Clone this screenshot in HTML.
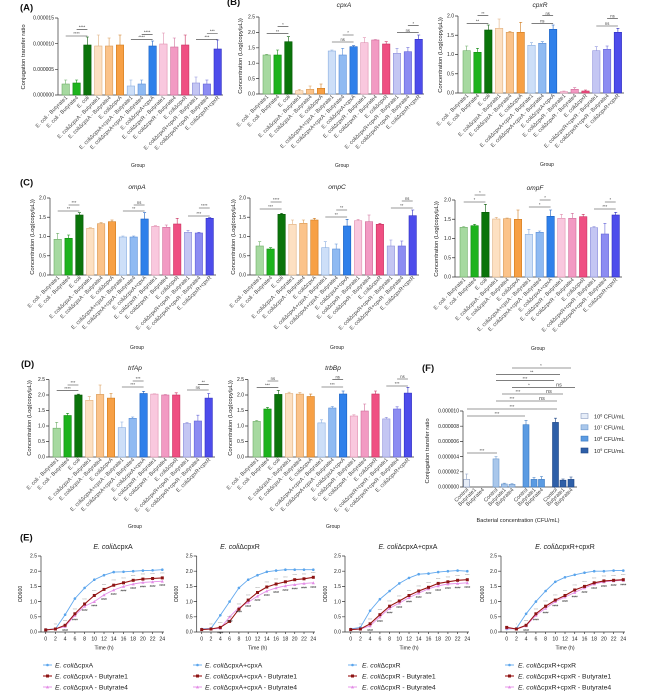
<!DOCTYPE html>
<html><head><meta charset="utf-8">
<style>
html,body{margin:0;padding:0;background:#fff;width:669px;height:698px;overflow:hidden}
svg{display:block}
text{font-family:"Liberation Sans",Arial,sans-serif;fill:#222}
.tk{font-size:5px;text-anchor:end}
.xl{font-size:5.4px;text-anchor:end;fill:#444}
.yl{font-size:5.8px;text-anchor:middle}
.ti{font-size:6.6px;font-style:italic;text-anchor:middle}
.et{font-size:7px;text-anchor:middle}
.pl{font-size:9.5px;font-weight:bold;fill:#111}
.gp{font-size:5px;text-anchor:middle}
.sg{font-size:4.2px;text-anchor:middle;fill:#444}
.ax{stroke:#333;stroke-width:.7;fill:none}
.sl{stroke:#333;stroke-width:.55;fill:none}
.b{stroke-width:.6}.b path{fill:none}
.c0{fill:#a6d9a0;stroke:#6fae68}.c1{fill:#1db31d;stroke:#128a12}.c2{fill:#0b740b;stroke:#085a08}
.c3{fill:#fde0c2;stroke:#e0b080}.c4{fill:#fbc38a;stroke:#d99a55}.c5{fill:#f7a045;stroke:#d07c20}
.c6{fill:#cddff8;stroke:#8aaee0}.c7{fill:#8fbaf2;stroke:#5a8fd8}.c8{fill:#2f80ea;stroke:#1a5fc0}
.c9{fill:#f9c8de;stroke:#e090b0}.c10{fill:#f29ac3;stroke:#d06d9a}.c11{fill:#ef4f82;stroke:#c8305f}
.c12{fill:#c4c6f3;stroke:#8f92dc}.c13{fill:#8c8cf2;stroke:#6565d8}.c14{fill:#4d4ceb;stroke:#3030c0}
.f1{fill:#e6edf8;stroke:#8a9cc0}.f2{fill:#a9c7eb;stroke:#6d98cc}.f3{fill:#5b9be2;stroke:#3a78c0}.f4{fill:#2e5fa8;stroke:#1d4585}
.et2{font-size:5.2px;text-anchor:middle}
.lg{font-size:6.8px}
.an{font-size:2.8px;fill:#888;text-anchor:middle}
.an2{font-size:2.6px;fill:#222;text-anchor:middle}
.lb{stroke:#62a8ee;stroke-width:.9;fill:none}
.lr{stroke:#9a1515;stroke-width:1.1;fill:none}
.lp{stroke:#e58ee8;stroke-width:.9;fill:none}
</style></head><body>
<svg width="669" height="698" viewBox="0 0 669 698" xmlns="http://www.w3.org/2000/svg">
<defs>
<marker id="mb" markerWidth="4" markerHeight="4" refX="2" refY="2" markerUnits="userSpaceOnUse"><circle cx="2" cy="2" r="1.3" fill="#5aa5ec"/></marker>
<marker id="mr" markerWidth="4" markerHeight="4" refX="2" refY="2" markerUnits="userSpaceOnUse"><rect x=".5" y=".5" width="3" height="3" fill="#8c1414"/></marker>
<marker id="mp" markerWidth="4" markerHeight="4" refX="2" refY="2" markerUnits="userSpaceOnUse"><path d="M2 .5L3.6 3.4H.4z" fill="#e38ce6"/></marker>
</defs>

<!-- ============ PANEL A ============ -->
<text class="pl" x="20" y="10.5">(A)</text>
<path class="ax" d="M58 18V95H223M55 18h3M55 43.7h3M55 69.3h3M55 95h3"/>
<text class="tk" x="54" y="19.7">0.000015</text>
<text class="tk" x="54" y="45.4">0.000010</text>
<text class="tk" x="54" y="71">0.000005</text>
<text class="tk" x="54" y="96.7">0.000000</text>
<text class="yl" transform="translate(25 57)rotate(-90)">Conjugation transfer ratio</text>
<g class="b c0"><rect x="62" y="84" width="7.4" height="11"/><path d="M65.7 84V80m-1.5 0h3"/></g>
<g class="b c1"><rect x="72.9" y="83" width="7.4" height="12"/><path d="M76.6 83V80m-1.5 0h3"/></g>
<g class="b c2"><rect x="83.7" y="45" width="7.4" height="50"/><path d="M87.4 45V37m-1.5 0h3"/></g>
<g class="b c3"><rect x="94.6" y="46" width="7.4" height="49"/><path d="M98.3 46V35m-1.5 0h3"/></g>
<g class="b c4"><rect x="105.4" y="46" width="7.4" height="49"/><path d="M109.1 46V38m-1.5 0h3"/></g>
<g class="b c5"><rect x="116.3" y="45" width="7.4" height="50"/><path d="M120 45V35m-1.5 0h3"/></g>
<g class="b c6"><rect x="127.2" y="86" width="7.4" height="9"/><path d="M130.9 86V80m-1.5 0h3"/></g>
<g class="b c7"><rect x="138" y="84" width="7.4" height="11"/><path d="M141.7 84V80m-1.5 0h3"/></g>
<g class="b c8"><rect x="148.9" y="46" width="7.4" height="49"/><path d="M152.6 46V41m-1.5 0h3"/></g>
<g class="b c9"><rect x="159.7" y="44" width="7.4" height="51"/><path d="M163.4 44V33m-1.5 0h3"/></g>
<g class="b c10"><rect x="170.6" y="47" width="7.4" height="48"/><path d="M174.3 47V38m-1.5 0h3"/></g>
<g class="b c11"><rect x="181.5" y="45" width="7.4" height="50"/><path d="M185.2 45V35m-1.5 0h3"/></g>
<g class="b c12"><rect x="192.3" y="83" width="7.4" height="12"/><path d="M196 83V77m-1.5 0h3"/></g>
<g class="b c13"><rect x="203.2" y="84" width="7.4" height="11"/><path d="M206.9 84V80m-1.5 0h3"/></g>
<g class="b c14"><rect x="214" y="49" width="7.4" height="46"/><path d="M217.7 49V40m-1.5 0h3"/></g>
<path class="sl" d="M65.7 36H87.4M76.6 29.3H87.4M130.9 39.3H152.6M141.7 34.3H152.6M196 39.3H217.7M206.9 33.5H217.7"/>
<text class="sg" x="76.5" y="35.2">****</text><text class="sg" x="82" y="28.5">****</text>
<text class="sg" x="141.7" y="38.5">****</text><text class="sg" x="147.1" y="33.5">****</text>
<text class="sg" x="206.9" y="38.5">***</text><text class="sg" x="212.3" y="32.7">***</text>
<text class="xl" transform="translate(67.7 98)rotate(-45)">E. coli - Butyrate1</text>
<text class="xl" transform="translate(78.6 98)rotate(-45)">E. coli - Butyrate4</text>
<text class="xl" transform="translate(89.4 98)rotate(-45)">E. coli</text>
<text class="xl" transform="translate(100.3 98)rotate(-45)">E. coliΔcpxA - Butyrate1</text>
<text class="xl" transform="translate(111.1 98)rotate(-45)">E. coliΔcpxA - Butyrate4</text>
<text class="xl" transform="translate(122 98)rotate(-45)">E. coliΔcpxA</text>
<text class="xl" transform="translate(132.9 98)rotate(-45)">E. coliΔcpxA+cpxA - Butyrate1</text>
<text class="xl" transform="translate(143.7 98)rotate(-45)">E. coliΔcpxA+cpxA - Butyrate4</text>
<text class="xl" transform="translate(154.6 98)rotate(-45)">E. coliΔcpxA+cpxA</text>
<text class="xl" transform="translate(165.4 98)rotate(-45)">E. coliΔcpxR - Butyrate1</text>
<text class="xl" transform="translate(176.3 98)rotate(-45)">E. coliΔcpxR - Butyrate4</text>
<text class="xl" transform="translate(187.2 98)rotate(-45)">E. coliΔcpxR</text>
<text class="xl" transform="translate(198 98)rotate(-45)">E. coliΔcpxR+cpxR - Butyrate1</text>
<text class="xl" transform="translate(208.9 98)rotate(-45)">E. coliΔcpxR+cpxR - Butyrate4</text>
<text class="xl" transform="translate(219.7 98)rotate(-45)">E. coliΔcpxR+cpxR</text>
<text class="gp" x="138" y="167">Group</text>

<!-- ============ PANEL B cpxA ============ -->
<text class="pl" x="227" y="5">(B)</text>
<text class="ti" x="344" y="7">cpxA</text>
<path class="ax" d="M259 17V94H424M256 17h3M256 32.4h3M256 47.8h3M256 63.2h3M256 78.6h3M256 94h3"/>
<text class="tk" x="255" y="18.7">2.5</text><text class="tk" x="255" y="34.1">2.0</text><text class="tk" x="255" y="49.5">1.5</text>
<text class="tk" x="255" y="64.9">1.0</text><text class="tk" x="255" y="80.3">0.5</text><text class="tk" x="255" y="95.7">0.0</text>
<text class="yl" transform="translate(242 56)rotate(-90)">Concentration (Log(copy/μL))</text>
<g class="b c0"><rect x="263" y="55" width="7.4" height="39"/><path d="M266.7 55V54.3m-1.5 0h3"/></g>
<g class="b c1"><rect x="273.9" y="55" width="7.4" height="39"/><path d="M277.6 55V50m-1.5 0h3"/></g>
<g class="b c2"><rect x="284.7" y="41.7" width="7.4" height="52.3"/><path d="M288.4 41.7V36.7m-1.5 0h3"/></g>
<g class="b c3"><rect x="295.6" y="90.7" width="7.4" height="3.3"/><path d="M299.3 90.7V89.3m-1.5 0h3"/></g>
<g class="b c4"><rect x="306.4" y="89.3" width="7.4" height="4.7"/><path d="M310.1 89.3V86m-1.5 0h3"/></g>
<g class="b c5"><rect x="317.3" y="88.3" width="7.4" height="5.7"/><path d="M321 88.3V84m-1.5 0h3"/></g>
<g class="b c6"><rect x="328.2" y="51" width="7.4" height="43"/><path d="M331.9 51V50m-1.5 0h3"/></g>
<g class="b c7"><rect x="339" y="55" width="7.4" height="39"/><path d="M342.7 55V48.3m-1.5 0h3"/></g>
<g class="b c8"><rect x="349.9" y="46.7" width="7.4" height="47.3"/><path d="M353.6 46.7V45.7m-1.5 0h3"/></g>
<g class="b c9"><rect x="360.7" y="42.7" width="7.4" height="51.3"/><path d="M364.4 42.7V37.7m-1.5 0h3"/></g>
<g class="b c10"><rect x="371.6" y="40" width="7.4" height="54"/><path d="M375.3 40V39.5m-1.5 0h3"/></g>
<g class="b c11"><rect x="382.5" y="44" width="7.4" height="50"/><path d="M386.2 44V41.7m-1.5 0h3"/></g>
<g class="b c12"><rect x="393.3" y="53.3" width="7.4" height="40.7"/><path d="M397 53.3V48.3m-1.5 0h3"/></g>
<g class="b c13"><rect x="404.2" y="51.7" width="7.4" height="42.3"/><path d="M407.9 51.7V47.7m-1.5 0h3"/></g>
<g class="b c14"><rect x="415" y="39.3" width="7.4" height="54.7"/><path d="M418.7 39.3V35m-1.5 0h3"/></g>
<path class="sl" d="M266.7 33.7H288.4M277.6 26.7H288.4M331.9 42H353.6M342.7 35H353.6M397 32.7H418.7M407.9 25.7H418.7"/>
<text class="sg" x="277.5" y="32.9">**</text><text class="sg" x="283" y="25.9">*</text>
<text class="sg" x="342.7" y="41.2">ns</text><text class="sg" x="348.1" y="34.2">*</text>
<text class="sg" x="407.8" y="31.9">ns</text><text class="sg" x="413.3" y="24.9">*</text>
<text class="xl" transform="translate(268.7 97)rotate(-45)">E. coli - Butyrate1</text>
<text class="xl" transform="translate(279.6 97)rotate(-45)">E. coli - Butyrate4</text>
<text class="xl" transform="translate(290.4 97)rotate(-45)">E. coli</text>
<text class="xl" transform="translate(301.3 97)rotate(-45)">E. coliΔcpxA - Butyrate1</text>
<text class="xl" transform="translate(312.1 97)rotate(-45)">E. coliΔcpxA - Butyrate4</text>
<text class="xl" transform="translate(323 97)rotate(-45)">E. coliΔcpxA</text>
<text class="xl" transform="translate(333.9 97)rotate(-45)">E. coliΔcpxA+cpxA - Butyrate1</text>
<text class="xl" transform="translate(344.7 97)rotate(-45)">E. coliΔcpxA+cpxA - Butyrate4</text>
<text class="xl" transform="translate(355.6 97)rotate(-45)">E. coliΔcpxA+cpxA</text>
<text class="xl" transform="translate(366.4 97)rotate(-45)">E. coliΔcpxR - Butyrate1</text>
<text class="xl" transform="translate(377.3 97)rotate(-45)">E. coliΔcpxR - Butyrate4</text>
<text class="xl" transform="translate(388.2 97)rotate(-45)">E. coliΔcpxR</text>
<text class="xl" transform="translate(399 97)rotate(-45)">E. coliΔcpxR+cpxR - Butyrate1</text>
<text class="xl" transform="translate(409.9 97)rotate(-45)">E. coliΔcpxR+cpxR - Butyrate4</text>
<text class="xl" transform="translate(420.7 97)rotate(-45)">E. coliΔcpxR+cpxR</text>
<text class="gp" x="342" y="167">Group</text>

<!-- ============ PANEL B cpxR ============ -->
<text class="ti" x="540" y="7">cpxR</text>
<path class="ax" d="M458 16V93H624M455 16h3M455 35.25h3M455 54.5h3M455 73.75h3M455 93h3"/>
<text class="tk" x="454" y="17.7">2.0</text><text class="tk" x="454" y="37">1.5</text><text class="tk" x="454" y="56.2">1.0</text>
<text class="tk" x="454" y="75.5">0.5</text><text class="tk" x="454" y="94.7">0.0</text>
<text class="yl" transform="translate(442 55)rotate(-90)">Concentration (Log(copy/μL))</text>
<g class="b c0"><rect x="463" y="50.7" width="7.4" height="42.3"/><path d="M466.7 50.7V46m-1.5 0h3"/></g>
<g class="b c1"><rect x="473.8" y="52.3" width="7.4" height="40.7"/><path d="M477.5 52.3V48.3m-1.5 0h3"/></g>
<g class="b c2"><rect x="484.6" y="30" width="7.4" height="63"/><path d="M488.3 30V25m-1.5 0h3"/></g>
<g class="b c3"><rect x="495.4" y="28.3" width="7.4" height="64.7"/><path d="M499.1 28.3V19m-1.5 0h3"/></g>
<g class="b c4"><rect x="506.2" y="32.3" width="7.4" height="60.7"/><path d="M509.9 32.3V31.3m-1.5 0h3"/></g>
<g class="b c5"><rect x="517" y="32.3" width="7.4" height="60.7"/><path d="M520.7 32.3V22.3m-1.5 0h3"/></g>
<g class="b c6"><rect x="527.8" y="45.3" width="7.4" height="47.7"/><path d="M531.5 45.3V42.7m-1.5 0h3"/></g>
<g class="b c7"><rect x="538.6" y="43.3" width="7.4" height="49.7"/><path d="M542.3 43.3V41.7m-1.5 0h3"/></g>
<g class="b c8"><rect x="549.4" y="29.3" width="7.4" height="63.7"/><path d="M553.1 29.3V25m-1.5 0h3"/></g>
<g class="b c9"><rect x="560.2" y="91.7" width="7.4" height="1.3"/><path d="M563.9 91.7V91m-1.5 0h3"/></g>
<g class="b c10"><rect x="571" y="89.3" width="7.4" height="3.7"/><path d="M574.7 89.3V87.7m-1.5 0h3"/></g>
<g class="b c11"><rect x="581.8" y="91" width="7.4" height="2"/><path d="M585.5 91V90m-1.5 0h3"/></g>
<g class="b c12"><rect x="592.6" y="50.7" width="7.4" height="42.3"/><path d="M596.3 50.7V46.7m-1.5 0h3"/></g>
<g class="b c13"><rect x="603.4" y="49.3" width="7.4" height="43.7"/><path d="M607.1 49.3V46m-1.5 0h3"/></g>
<g class="b c14"><rect x="614.2" y="32.3" width="7.4" height="60.7"/><path d="M617.9 32.3V28.3m-1.5 0h3"/></g>
<path class="sl" d="M466.7 23.3H488.3M477.5 15.7H488.3M531.5 23.3H553.1M542.3 15.7H553.1M596.3 26H617.9M607.1 18.3H617.9"/>
<text class="sg" x="477.5" y="22.5">**</text><text class="sg" x="482.9" y="14.9">**</text>
<text class="sg" x="542.3" y="22.5">ns</text><text class="sg" x="547.7" y="14.9">ns</text>
<text class="sg" x="607.1" y="25.2">ns</text><text class="sg" x="612.5" y="17.5">ns</text>
<text class="xl" transform="translate(468.7 96)rotate(-45)">E. coli - Butyrate1</text>
<text class="xl" transform="translate(479.5 96)rotate(-45)">E. coli - Butyrate4</text>
<text class="xl" transform="translate(490.3 96)rotate(-45)">E. coli</text>
<text class="xl" transform="translate(501.1 96)rotate(-45)">E. coliΔcpxA - Butyrate1</text>
<text class="xl" transform="translate(511.9 96)rotate(-45)">E. coliΔcpxA - Butyrate4</text>
<text class="xl" transform="translate(522.7 96)rotate(-45)">E. coliΔcpxA</text>
<text class="xl" transform="translate(533.5 96)rotate(-45)">E. coliΔcpxA+cpxA - Butyrate1</text>
<text class="xl" transform="translate(544.3 96)rotate(-45)">E. coliΔcpxA+cpxA - Butyrate4</text>
<text class="xl" transform="translate(555.1 96)rotate(-45)">E. coliΔcpxA+cpxA</text>
<text class="xl" transform="translate(565.9 96)rotate(-45)">E. coliΔcpxR - Butyrate1</text>
<text class="xl" transform="translate(576.7 96)rotate(-45)">E. coliΔcpxR - Butyrate4</text>
<text class="xl" transform="translate(587.5 96)rotate(-45)">E. coliΔcpxR</text>
<text class="xl" transform="translate(598.3 96)rotate(-45)">E. coliΔcpxR+cpxR - Butyrate1</text>
<text class="xl" transform="translate(609.1 96)rotate(-45)">E. coliΔcpxR+cpxR - Butyrate4</text>
<text class="xl" transform="translate(619.9 96)rotate(-45)">E. coliΔcpxR+cpxR</text>
<text class="gp" x="547" y="166">Group</text>

<!-- ============ PANEL C ompA ============ -->
<text class="pl" x="20" y="185.5">(C)</text>
<text class="ti" x="137" y="189">ompA</text>
<path class="ax" d="M50 198V275H216M47 198h3M47 217.25h3M47 236.5h3M47 255.75h3M47 275h3"/>
<text class="tk" x="46" y="199.7">2.0</text><text class="tk" x="46" y="219">1.5</text><text class="tk" x="46" y="238.2">1.0</text>
<text class="tk" x="46" y="257.5">0.5</text><text class="tk" x="46" y="276.7">0.0</text>
<text class="yl" transform="translate(34 237)rotate(-90)">Concentration (Log(copy/μL))</text>
<g class="b c0"><rect x="54" y="239.3" width="7.4" height="35.7"/><path d="M57.7 239.3V233.3m-1.5 0h3"/></g>
<g class="b c1"><rect x="64.9" y="238.3" width="7.4" height="36.7"/><path d="M68.6 238.3V235m-1.5 0h3"/></g>
<g class="b c2"><rect x="75.7" y="215" width="7.4" height="60"/><path d="M79.4 215V212.7m-1.5 0h3"/></g>
<g class="b c3"><rect x="86.6" y="228.3" width="7.4" height="46.7"/><path d="M90.3 228.3V227.7m-1.5 0h3"/></g>
<g class="b c4"><rect x="97.4" y="223.7" width="7.4" height="51.3"/><path d="M101.1 223.7V222.7m-1.5 0h3"/></g>
<g class="b c5"><rect x="108.3" y="221.7" width="7.4" height="53.3"/><path d="M112 221.7V220m-1.5 0h3"/></g>
<g class="b c6"><rect x="119.2" y="237" width="7.4" height="38"/><path d="M122.9 237V236m-1.5 0h3"/></g>
<g class="b c7"><rect x="130" y="237" width="7.4" height="38"/><path d="M133.7 237V236m-1.5 0h3"/></g>
<g class="b c8"><rect x="140.9" y="219" width="7.4" height="56"/><path d="M144.6 219V212.7m-1.5 0h3"/></g>
<g class="b c9"><rect x="151.7" y="226.3" width="7.4" height="48.7"/><path d="M155.4 226.3V225.7m-1.5 0h3"/></g>
<g class="b c10"><rect x="162.6" y="227.3" width="7.4" height="47.7"/><path d="M166.3 227.3V225m-1.5 0h3"/></g>
<g class="b c11"><rect x="173.5" y="224" width="7.4" height="51"/><path d="M177.2 224V218.3m-1.5 0h3"/></g>
<g class="b c12"><rect x="184.3" y="232.3" width="7.4" height="42.7"/><path d="M188 232.3V230.3m-1.5 0h3"/></g>
<g class="b c13"><rect x="195.2" y="233" width="7.4" height="42"/><path d="M198.9 233V232.3m-1.5 0h3"/></g>
<g class="b c14"><rect x="206" y="218.3" width="7.4" height="56.7"/><path d="M209.7 218.3V217.7m-1.5 0h3"/></g>
<path class="sl" d="M57.7 211H79.4M68.6 205H79.4M122.9 211H144.6M133.7 205H144.6M188 216H209.7M198.9 208H209.7"/>
<text class="sg" x="68.5" y="210.2">**</text><text class="sg" x="74" y="204.2">***</text>
<text class="sg" x="133.7" y="210.2">**</text><text class="sg" x="139.1" y="204.2">ns</text>
<text class="sg" x="198.8" y="215.2">***</text><text class="sg" x="204.3" y="207.2">****</text>
<text class="xl" transform="translate(59.7 278)rotate(-45)">E. coli - Butyrate1</text>
<text class="xl" transform="translate(70.6 278)rotate(-45)">E. coli - Butyrate4</text>
<text class="xl" transform="translate(81.4 278)rotate(-45)">E. coli</text>
<text class="xl" transform="translate(92.3 278)rotate(-45)">E. coliΔcpxA - Butyrate1</text>
<text class="xl" transform="translate(103.1 278)rotate(-45)">E. coliΔcpxA - Butyrate4</text>
<text class="xl" transform="translate(114 278)rotate(-45)">E. coliΔcpxA</text>
<text class="xl" transform="translate(124.9 278)rotate(-45)">E. coliΔcpxA+cpxA - Butyrate1</text>
<text class="xl" transform="translate(135.7 278)rotate(-45)">E. coliΔcpxA+cpxA - Butyrate4</text>
<text class="xl" transform="translate(146.6 278)rotate(-45)">E. coliΔcpxA+cpxA</text>
<text class="xl" transform="translate(157.4 278)rotate(-45)">E. coliΔcpxR - Butyrate1</text>
<text class="xl" transform="translate(168.3 278)rotate(-45)">E. coliΔcpxR - Butyrate4</text>
<text class="xl" transform="translate(179.2 278)rotate(-45)">E. coliΔcpxR</text>
<text class="xl" transform="translate(190 278)rotate(-45)">E. coliΔcpxR+cpxR - Butyrate1</text>
<text class="xl" transform="translate(200.9 278)rotate(-45)">E. coliΔcpxR+cpxR - Butyrate4</text>
<text class="xl" transform="translate(211.7 278)rotate(-45)">E. coliΔcpxR+cpxR</text>
<text class="gp" x="137" y="349">Group</text>

<!-- ============ PANEL C ompC ============ -->
<text class="ti" x="337" y="189">ompC</text>
<path class="ax" d="M250 198V275H419M247 198h3M247 217.25h3M247 236.5h3M247 255.75h3M247 275h3"/>
<text class="tk" x="246" y="199.7">2.0</text><text class="tk" x="246" y="219">1.5</text><text class="tk" x="246" y="238.2">1.0</text>
<text class="tk" x="246" y="257.5">0.5</text><text class="tk" x="246" y="276.7">0.0</text>
<text class="yl" transform="translate(235 237)rotate(-90)">Concentration (Log(copy/μL))</text>
<g class="b c0"><rect x="256" y="246" width="7.4" height="29"/><path d="M259.7 246V241.7m-1.5 0h3"/></g>
<g class="b c1"><rect x="266.9" y="249" width="7.4" height="26"/><path d="M270.6 249V247.7m-1.5 0h3"/></g>
<g class="b c2"><rect x="277.9" y="214.3" width="7.4" height="60.7"/><path d="M281.6 214.3V213.3m-1.5 0h3"/></g>
<g class="b c3"><rect x="288.8" y="224.3" width="7.4" height="50.7"/><path d="M292.5 224.3V220m-1.5 0h3"/></g>
<g class="b c4"><rect x="299.7" y="223.3" width="7.4" height="51.7"/><path d="M303.4 223.3V220m-1.5 0h3"/></g>
<g class="b c5"><rect x="310.7" y="220" width="7.4" height="55"/><path d="M314.4 220V218.3m-1.5 0h3"/></g>
<g class="b c6"><rect x="321.6" y="247.7" width="7.4" height="27.3"/><path d="M325.3 247.7V241.7m-1.5 0h3"/></g>
<g class="b c7"><rect x="332.5" y="249" width="7.4" height="26"/><path d="M336.2 249V244m-1.5 0h3"/></g>
<g class="b c8"><rect x="343.4" y="226" width="7.4" height="49"/><path d="M347.1 226V219.3m-1.5 0h3"/></g>
<g class="b c9"><rect x="354.4" y="220.7" width="7.4" height="54.3"/><path d="M358.1 220.7V219.3m-1.5 0h3"/></g>
<g class="b c10"><rect x="365.3" y="221.7" width="7.4" height="53.3"/><path d="M369 221.7V215m-1.5 0h3"/></g>
<g class="b c11"><rect x="376.2" y="224.3" width="7.4" height="50.7"/><path d="M379.9 224.3V223.3m-1.5 0h3"/></g>
<g class="b c12"><rect x="387.2" y="246" width="7.4" height="29"/><path d="M390.9 246V240m-1.5 0h3"/></g>
<g class="b c13"><rect x="398.1" y="246" width="7.4" height="29"/><path d="M401.8 246V241m-1.5 0h3"/></g>
<g class="b c14"><rect x="409" y="215.7" width="7.4" height="59.3"/><path d="M412.7 215.7V210m-1.5 0h3"/></g>
<path class="sl" d="M259.7 209H281.6M270.6 202H281.6M325.3 217H347.1M336.2 210H347.1M390.9 208H412.7M401.8 201H412.7"/>
<text class="sg" x="270.6" y="208.2">***</text><text class="sg" x="276.1" y="201.2">****</text>
<text class="sg" x="336.2" y="216.2">**</text><text class="sg" x="341.6" y="209.2">**</text>
<text class="sg" x="401.8" y="207.2">**</text><text class="sg" x="407.2" y="200.2">ns</text>
<text class="xl" transform="translate(261.7 278)rotate(-45)">E. coli - Butyrate1</text>
<text class="xl" transform="translate(272.6 278)rotate(-45)">E. coli - Butyrate4</text>
<text class="xl" transform="translate(283.6 278)rotate(-45)">E. coli</text>
<text class="xl" transform="translate(294.5 278)rotate(-45)">E. coliΔcpxA - Butyrate1</text>
<text class="xl" transform="translate(305.4 278)rotate(-45)">E. coliΔcpxA - Butyrate4</text>
<text class="xl" transform="translate(316.4 278)rotate(-45)">E. coliΔcpxA</text>
<text class="xl" transform="translate(327.3 278)rotate(-45)">E. coliΔcpxA+cpxA - Butyrate1</text>
<text class="xl" transform="translate(338.2 278)rotate(-45)">E. coliΔcpxA+cpxA - Butyrate4</text>
<text class="xl" transform="translate(349.1 278)rotate(-45)">E. coliΔcpxA+cpxA</text>
<text class="xl" transform="translate(360.1 278)rotate(-45)">E. coliΔcpxR - Butyrate1</text>
<text class="xl" transform="translate(371 278)rotate(-45)">E. coliΔcpxR - Butyrate4</text>
<text class="xl" transform="translate(381.9 278)rotate(-45)">E. coliΔcpxR</text>
<text class="xl" transform="translate(392.9 278)rotate(-45)">E. coliΔcpxR+cpxR - Butyrate1</text>
<text class="xl" transform="translate(403.8 278)rotate(-45)">E. coliΔcpxR+cpxR - Butyrate4</text>
<text class="xl" transform="translate(414.7 278)rotate(-45)">E. coliΔcpxR+cpxR</text>
<text class="gp" x="337" y="349">Group</text>

<!-- ============ PANEL C ompF ============ -->
<text class="ti" x="535" y="190">ompF</text>
<path class="ax" d="M455 200V277H622M452 200h3M452 219.25h3M452 238.5h3M452 257.75h3M452 277h3"/>
<text class="tk" x="451" y="201.7">2.0</text><text class="tk" x="451" y="221">1.5</text><text class="tk" x="451" y="240.2">1.0</text>
<text class="tk" x="451" y="259.5">0.5</text><text class="tk" x="451" y="278.7">0.0</text>
<text class="yl" transform="translate(438 239)rotate(-90)">Concentration (Log(copy/μL))</text>
<g class="b c0"><rect x="460" y="227.3" width="7.4" height="49.7"/><path d="M463.7 227.3V226.5m-1.5 0h3"/></g>
<g class="b c1"><rect x="470.9" y="225.7" width="7.4" height="51.3"/><path d="M474.6 225.7V224.3m-1.5 0h3"/></g>
<g class="b c2"><rect x="481.7" y="212.3" width="7.4" height="64.7"/><path d="M485.4 212.3V204.3m-1.5 0h3"/></g>
<g class="b c3"><rect x="492.6" y="219" width="7.4" height="58"/><path d="M496.3 219V217.3m-1.5 0h3"/></g>
<g class="b c4"><rect x="503.4" y="218.7" width="7.4" height="58.3"/><path d="M507.1 218.7V218m-1.5 0h3"/></g>
<g class="b c5"><rect x="514.3" y="219.3" width="7.4" height="57.7"/><path d="M518 219.3V210m-1.5 0h3"/></g>
<g class="b c6"><rect x="525.2" y="234.3" width="7.4" height="42.7"/><path d="M528.9 234.3V229.3m-1.5 0h3"/></g>
<g class="b c7"><rect x="536" y="232.3" width="7.4" height="44.7"/><path d="M539.7 232.3V231m-1.5 0h3"/></g>
<g class="b c8"><rect x="546.9" y="216.3" width="7.4" height="60.7"/><path d="M550.6 216.3V210m-1.5 0h3"/></g>
<g class="b c9"><rect x="557.7" y="218.3" width="7.4" height="58.7"/><path d="M561.4 218.3V214.3m-1.5 0h3"/></g>
<g class="b c10"><rect x="568.6" y="218.3" width="7.4" height="58.7"/><path d="M572.3 218.3V213.3m-1.5 0h3"/></g>
<g class="b c11"><rect x="579.5" y="216.7" width="7.4" height="60.3"/><path d="M583.2 216.7V214.3m-1.5 0h3"/></g>
<g class="b c12"><rect x="590.3" y="227.7" width="7.4" height="49.3"/><path d="M594 227.7V226.7m-1.5 0h3"/></g>
<g class="b c13"><rect x="601.2" y="234" width="7.4" height="43"/><path d="M604.9 234V223.3m-1.5 0h3"/></g>
<g class="b c14"><rect x="612" y="215" width="7.4" height="62"/><path d="M615.7 215V212.3m-1.5 0h3"/></g>
<path class="sl" d="M463.7 202H485.4M474.6 195H485.4M528.9 207H550.6M539.7 200H550.6M594 209H615.7M604.9 202H615.7"/>
<text class="sg" x="474.5" y="201.2">*</text><text class="sg" x="480" y="194.2">*</text>
<text class="sg" x="539.7" y="206.2">*</text><text class="sg" x="545.1" y="199.2">*</text>
<text class="sg" x="604.8" y="208.2">***</text><text class="sg" x="610.3" y="201.2">*</text>
<text class="xl" transform="translate(465.7 280)rotate(-45)">E. coli - Butyrate1</text>
<text class="xl" transform="translate(476.6 280)rotate(-45)">E. coli - Butyrate4</text>
<text class="xl" transform="translate(487.4 280)rotate(-45)">E. coli</text>
<text class="xl" transform="translate(498.3 280)rotate(-45)">E. coliΔcpxA - Butyrate1</text>
<text class="xl" transform="translate(509.1 280)rotate(-45)">E. coliΔcpxA - Butyrate4</text>
<text class="xl" transform="translate(520 280)rotate(-45)">E. coliΔcpxA</text>
<text class="xl" transform="translate(530.9 280)rotate(-45)">E. coliΔcpxA+cpxA - Butyrate1</text>
<text class="xl" transform="translate(541.7 280)rotate(-45)">E. coliΔcpxA+cpxA - Butyrate4</text>
<text class="xl" transform="translate(552.6 280)rotate(-45)">E. coliΔcpxA+cpxA</text>
<text class="xl" transform="translate(563.4 280)rotate(-45)">E. coliΔcpxR - Butyrate1</text>
<text class="xl" transform="translate(574.3 280)rotate(-45)">E. coliΔcpxR - Butyrate4</text>
<text class="xl" transform="translate(585.2 280)rotate(-45)">E. coliΔcpxR</text>
<text class="xl" transform="translate(596 280)rotate(-45)">E. coliΔcpxR+cpxR - Butyrate1</text>
<text class="xl" transform="translate(606.9 280)rotate(-45)">E. coliΔcpxR+cpxR - Butyrate4</text>
<text class="xl" transform="translate(617.7 280)rotate(-45)">E. coliΔcpxR+cpxR</text>
<text class="gp" x="538" y="350">Group</text>

<!-- ============ PANEL D trfAp ============ -->
<text class="pl" x="21" y="367">(D)</text>
<text class="ti" x="135" y="370">trfAp</text>
<path class="ax" d="M49 379.5V457H215M46 379.5h3M46 395h3M46 410.5h3M46 426h3M46 441.5h3M46 457h3"/>
<text class="tk" x="45" y="381.2">2.5</text><text class="tk" x="45" y="396.7">2.0</text><text class="tk" x="45" y="412.2">1.5</text>
<text class="tk" x="45" y="427.7">1.0</text><text class="tk" x="45" y="443.2">0.5</text><text class="tk" x="45" y="458.7">0.0</text>
<text class="yl" transform="translate(31 418)rotate(-90)">Concentration (Log(copy/μL))</text>
<g class="b c0"><rect x="53" y="428.2" width="7.4" height="28.8"/><path d="M56.7 428.2V422.3m-1.5 0h3"/></g>
<g class="b c1"><rect x="63.9" y="415.5" width="7.4" height="41.5"/><path d="M67.6 415.5V413.3m-1.5 0h3"/></g>
<g class="b c2"><rect x="74.7" y="395" width="7.4" height="62"/><path d="M78.4 395V394.2m-1.5 0h3"/></g>
<g class="b c3"><rect x="85.6" y="400.3" width="7.4" height="56.7"/><path d="M89.3 400.3V396.6m-1.5 0h3"/></g>
<g class="b c4"><rect x="96.4" y="394.4" width="7.4" height="62.6"/><path d="M100.1 394.4V385m-1.5 0h3"/></g>
<g class="b c5"><rect x="107.3" y="398.1" width="7.4" height="58.9"/><path d="M111 398.1V393.5m-1.5 0h3"/></g>
<g class="b c6"><rect x="118.2" y="427.6" width="7.4" height="29.4"/><path d="M121.9 427.6V422m-1.5 0h3"/></g>
<g class="b c7"><rect x="129" y="418.3" width="7.4" height="38.7"/><path d="M132.7 418.3V417m-1.5 0h3"/></g>
<g class="b c8"><rect x="139.9" y="393.5" width="7.4" height="63.5"/><path d="M143.6 393.5V391.3m-1.5 0h3"/></g>
<g class="b c9"><rect x="150.7" y="394.1" width="7.4" height="62.9"/><path d="M154.4 394.1V393.8m-1.5 0h3"/></g>
<g class="b c10"><rect x="161.6" y="395" width="7.4" height="62"/><path d="M165.3 395V394.6m-1.5 0h3"/></g>
<g class="b c11"><rect x="172.5" y="395" width="7.4" height="62"/><path d="M176.2 395V392.8m-1.5 0h3"/></g>
<g class="b c12"><rect x="183.3" y="423.5" width="7.4" height="33.5"/><path d="M187 423.5V422.6m-1.5 0h3"/></g>
<g class="b c13"><rect x="194.2" y="421" width="7.4" height="36"/><path d="M197.9 421V415.2m-1.5 0h3"/></g>
<g class="b c14"><rect x="205" y="398.1" width="7.4" height="58.9"/><path d="M208.7 398.1V393.5m-1.5 0h3"/></g>
<path class="sl" d="M56.7 390.7H78.4M67.6 385H78.4M121.9 387H143.6M132.7 381H143.6M187 390H208.7M197.9 384.3H208.7"/>
<text class="sg" x="67.5" y="389.9">****</text><text class="sg" x="73" y="384.2">***</text>
<text class="sg" x="132.7" y="386.2">***</text><text class="sg" x="138.1" y="380.2">***</text>
<text class="sg" x="197.8" y="389.2">ns</text><text class="sg" x="203.3" y="383.5">**</text>
<text class="xl" transform="translate(58.7 460)rotate(-45)">E. coli - Butyrate1</text>
<text class="xl" transform="translate(69.6 460)rotate(-45)">E. coli - Butyrate4</text>
<text class="xl" transform="translate(80.4 460)rotate(-45)">E. coli</text>
<text class="xl" transform="translate(91.3 460)rotate(-45)">E. coliΔcpxA - Butyrate1</text>
<text class="xl" transform="translate(102.1 460)rotate(-45)">E. coliΔcpxA - Butyrate4</text>
<text class="xl" transform="translate(113 460)rotate(-45)">E. coliΔcpxA</text>
<text class="xl" transform="translate(123.9 460)rotate(-45)">E. coliΔcpxA+cpxA - Butyrate1</text>
<text class="xl" transform="translate(134.7 460)rotate(-45)">E. coliΔcpxA+cpxA - Butyrate4</text>
<text class="xl" transform="translate(145.6 460)rotate(-45)">E. coliΔcpxA+cpxA</text>
<text class="xl" transform="translate(156.4 460)rotate(-45)">E. coliΔcpxR - Butyrate1</text>
<text class="xl" transform="translate(167.3 460)rotate(-45)">E. coliΔcpxR - Butyrate4</text>
<text class="xl" transform="translate(178.2 460)rotate(-45)">E. coliΔcpxR</text>
<text class="xl" transform="translate(189 460)rotate(-45)">E. coliΔcpxR+cpxR - Butyrate1</text>
<text class="xl" transform="translate(199.9 460)rotate(-45)">E. coliΔcpxR+cpxR - Butyrate4</text>
<text class="xl" transform="translate(210.7 460)rotate(-45)">E. coliΔcpxR+cpxR</text>
<text class="gp" x="135" y="528">Group</text>

<!-- ============ PANEL D trbBp ============ -->
<text class="ti" x="333" y="370">trbBp</text>
<path class="ax" d="M248 379.5V457H414M245 379.5h3M245 395h3M245 410.5h3M245 426h3M245 441.5h3M245 457h3"/>
<text class="tk" x="244" y="381.2">2.5</text><text class="tk" x="244" y="396.7">2.0</text><text class="tk" x="244" y="412.2">1.5</text>
<text class="tk" x="244" y="427.7">1.0</text><text class="tk" x="244" y="443.2">0.5</text><text class="tk" x="244" y="458.7">0.0</text>
<text class="yl" transform="translate(232 418)rotate(-90)">Concentration (Log(copy/μL))</text>
<g class="b c0"><rect x="253" y="421.4" width="7.4" height="35.6"/><path d="M256.7 421.4V420.4m-1.5 0h3"/></g>
<g class="b c1"><rect x="263.8" y="409" width="7.4" height="48"/><path d="M267.5 409V407.4m-1.5 0h3"/></g>
<g class="b c2"><rect x="274.6" y="394.4" width="7.4" height="62.6"/><path d="M278.3 394.4V390.4m-1.5 0h3"/></g>
<g class="b c3"><rect x="285.4" y="393.5" width="7.4" height="63.5"/><path d="M289.1 393.5V392.2m-1.5 0h3"/></g>
<g class="b c4"><rect x="296.2" y="394.1" width="7.4" height="62.9"/><path d="M299.9 394.1V392.5m-1.5 0h3"/></g>
<g class="b c5"><rect x="307" y="396.5" width="7.4" height="60.5"/><path d="M310.7 396.5V394.1m-1.5 0h3"/></g>
<g class="b c6"><rect x="317.8" y="422.9" width="7.4" height="34.1"/><path d="M321.5 422.9V419.8m-1.5 0h3"/></g>
<g class="b c7"><rect x="328.6" y="408" width="7.4" height="49"/><path d="M332.3 408V406.5m-1.5 0h3"/></g>
<g class="b c8"><rect x="339.4" y="394" width="7.4" height="63"/><path d="M343.1 394V391m-1.5 0h3"/></g>
<g class="b c9"><rect x="350.2" y="416" width="7.4" height="41"/><path d="M353.9 416V414.8m-1.5 0h3"/></g>
<g class="b c10"><rect x="361" y="411" width="7.4" height="46"/><path d="M364.7 411V404m-1.5 0h3"/></g>
<g class="b c11"><rect x="371.8" y="394" width="7.4" height="63"/><path d="M375.5 394V391m-1.5 0h3"/></g>
<g class="b c12"><rect x="382.6" y="418.9" width="7.4" height="38.1"/><path d="M386.3 418.9V417.3m-1.5 0h3"/></g>
<g class="b c13"><rect x="393.4" y="409" width="7.4" height="48"/><path d="M397.1 409V406.8m-1.5 0h3"/></g>
<g class="b c14"><rect x="404.2" y="393.1" width="7.4" height="63.9"/><path d="M407.9 393.1V387.3m-1.5 0h3"/></g>
<path class="sl" d="M256.7 387.3H278.3M267.5 381H278.3M321.5 387H343.1M332.3 379.3H343.1M386.3 386H407.9M397.1 379H407.9"/>
<text class="sg" x="267.5" y="386.5">***</text><text class="sg" x="272.9" y="380.2">ns</text>
<text class="sg" x="332.3" y="386.2">***</text><text class="sg" x="337.7" y="378.5">ns</text>
<text class="sg" x="397.1" y="385.2">***</text><text class="sg" x="402.5" y="378.2">ns</text>
<text class="xl" transform="translate(258.7 460)rotate(-45)">E. coli - Butyrate1</text>
<text class="xl" transform="translate(269.5 460)rotate(-45)">E. coli - Butyrate4</text>
<text class="xl" transform="translate(280.3 460)rotate(-45)">E. coli</text>
<text class="xl" transform="translate(291.1 460)rotate(-45)">E. coliΔcpxA - Butyrate1</text>
<text class="xl" transform="translate(301.9 460)rotate(-45)">E. coliΔcpxA - Butyrate4</text>
<text class="xl" transform="translate(312.7 460)rotate(-45)">E. coliΔcpxA</text>
<text class="xl" transform="translate(323.5 460)rotate(-45)">E. coliΔcpxA+cpxA - Butyrate1</text>
<text class="xl" transform="translate(334.3 460)rotate(-45)">E. coliΔcpxA+cpxA - Butyrate4</text>
<text class="xl" transform="translate(345.1 460)rotate(-45)">E. coliΔcpxA+cpxA</text>
<text class="xl" transform="translate(355.9 460)rotate(-45)">E. coliΔcpxR - Butyrate1</text>
<text class="xl" transform="translate(366.7 460)rotate(-45)">E. coliΔcpxR - Butyrate4</text>
<text class="xl" transform="translate(377.5 460)rotate(-45)">E. coliΔcpxR</text>
<text class="xl" transform="translate(388.3 460)rotate(-45)">E. coliΔcpxR+cpxR - Butyrate1</text>
<text class="xl" transform="translate(399.1 460)rotate(-45)">E. coliΔcpxR+cpxR - Butyrate4</text>
<text class="xl" transform="translate(409.9 460)rotate(-45)">E. coliΔcpxR+cpxR</text>
<text class="gp" x="333" y="528">Group</text>

<!-- ============ PANEL F ============ -->
<text class="pl" x="422" y="371">(F)</text>
<path class="ax" d="M463 411V487H577M460 411h3M460 426.2h3M460 441.4h3M460 456.6h3M460 471.8h3M460 487h3"/>
<text class="tk" x="459" y="412.7">0.000010</text><text class="tk" x="459" y="427.9">0.000008</text>
<text class="tk" x="459" y="443.1">0.000006</text><text class="tk" x="459" y="458.3">0.000004</text>
<text class="tk" x="459" y="473.5">0.000002</text><text class="tk" x="459" y="488.7">0.000000</text>
<text class="yl" transform="translate(429 451)rotate(-90)">Conjugation transfer ratio</text>
<g class="b f1"><rect x="463.7" y="479.4" width="6" height="7.6"/><path d="M466.7 479.4V474m-1.5 0h3"/></g>
<g class="b f2"><rect x="493" y="458.9" width="6" height="28.1"/><path d="M496 458.9V456.5m-1.5 0h3"/></g>
<g class="b f2"><rect x="501.3" y="484" width="6" height="3"/><path d="M504.3 484V483.2m-1.5 0h3"/></g>
<g class="b f2"><rect x="509" y="484.3" width="6" height="2.7"/><path d="M512 484.3V483.5m-1.5 0h3"/></g>
<g class="b f3"><rect x="523" y="424.7" width="6" height="62.3"/><path d="M526 424.7V420.6m-1.5 0h3"/></g>
<g class="b f3"><rect x="531" y="479.4" width="6" height="7.6"/><path d="M534 479.4V477.5m-1.5 0h3"/></g>
<g class="b f3"><rect x="538.5" y="479.4" width="6" height="7.6"/><path d="M541.5 479.4V476.5m-1.5 0h3"/></g>
<g class="b f4"><rect x="552.5" y="422.4" width="6" height="64.6"/><path d="M555.5 422.4V418.2m-1.5 0h3"/></g>
<g class="b f4"><rect x="560" y="480.2" width="6" height="6.8"/><path d="M563 480.2V479m-1.5 0h3"/></g>
<g class="b f4"><rect x="568" y="479.4" width="6" height="7.6"/><path d="M571 479.4V477m-1.5 0h3"/></g>
<path class="sl" d="M512 368H571M496 374.3H560M496 380.7H554M512 387.3H575M502 394H563M496 401H557M467 409H557M467 416H525M467 453H497"/>
<text class="sg" x="541" y="367.2">*</text><text class="sg" x="531.7" y="373.5">**</text><text class="sg" x="525" y="379.9">***</text>
<text class="sg" x="529" y="386.5">*</text><text class="sg" x="559" y="386.5" style="font-size:5.4px">ns</text>
<text class="sg" x="518" y="393.2">***</text><text class="sg" x="549" y="393.2" style="font-size:5.4px">ns</text>
<text class="sg" x="512" y="400.2">***</text><text class="sg" x="542" y="400.2" style="font-size:5.4px">ns</text>
<text class="sg" x="512" y="408.2">***</text><text class="sg" x="497" y="415.2">***</text><text class="sg" x="482" y="452.2">***</text>
<text class="xl" transform="translate(468.7 490)rotate(-45)">Control</text>
<text class="xl" transform="translate(476.5 490)rotate(-45)">Butyrate1</text>
<text class="xl" transform="translate(484.5 490)rotate(-45)">Butyrate4</text>
<text class="xl" transform="translate(498 490)rotate(-45)">Control</text>
<text class="xl" transform="translate(506.3 490)rotate(-45)">Butyrate1</text>
<text class="xl" transform="translate(514 490)rotate(-45)">Butyrate4</text>
<text class="xl" transform="translate(528 490)rotate(-45)">Control</text>
<text class="xl" transform="translate(536 490)rotate(-45)">Butyrate1</text>
<text class="xl" transform="translate(543.5 490)rotate(-45)">Butyrate4</text>
<text class="xl" transform="translate(557.5 490)rotate(-45)">Control</text>
<text class="xl" transform="translate(565 490)rotate(-45)">Butyrate1</text>
<text class="xl" transform="translate(573 490)rotate(-45)">Butyrate4</text>
<text class="gp" x="518" y="522" style="font-size:5.6px">Bacterial concentration (CFU/mL)</text>
<rect class="b f1" x="581" y="413.5" width="7" height="5"/>
<rect class="b f2" x="581" y="424.8" width="7" height="5"/>
<rect class="b f3" x="581" y="436.1" width="7" height="5"/>
<rect class="b f4" x="581" y="448" width="7" height="5"/>
<text x="594" y="418.3" style="font-size:5.6px">10<tspan dy="-1.8" style="font-size:3.6px">6</tspan><tspan dy="1.8"> CFU/mL</tspan></text>
<text x="594" y="429.6" style="font-size:5.6px">10<tspan dy="-1.8" style="font-size:3.6px">7</tspan><tspan dy="1.8"> CFU/mL</tspan></text>
<text x="594" y="440.9" style="font-size:5.6px">10<tspan dy="-1.8" style="font-size:3.6px">8</tspan><tspan dy="1.8"> CFU/mL</tspan></text>
<text x="594" y="452.8" style="font-size:5.6px">10<tspan dy="-1.8" style="font-size:3.6px">9</tspan><tspan dy="1.8"> CFU/mL</tspan></text>

<!-- ============ PANEL E ============ -->
<text class="pl" x="20" y="540.5">(E)</text>

<!-- chart 1 -->
<text class="et" x="113" y="549"><tspan font-style="italic">E. coli</tspan>ΔcpxA</text>
<path class="ax" d="M41 556V632H164M38 556h3M38 571.2h3M38 586.4h3M38 601.6h3M38 616.8h3M38 632h3M45.7 632v2M55.4 632v2M65.1 632v2M74.9 632v2M84.6 632v2M94.3 632v2M104 632v2M113.7 632v2M123.5 632v2M133.2 632v2M142.9 632v2M152.6 632v2M162.3 632v2"/>
<text class="tk" x="37" y="557.7">2.5</text><text class="tk" x="37" y="572.9">2.0</text><text class="tk" x="37" y="588.1">1.5</text>
<text class="tk" x="37" y="603.3">1.0</text><text class="tk" x="37" y="618.5">0.5</text><text class="tk" x="37" y="633.7">0.0</text>
<text class="yl" transform="translate(22 594)rotate(-90)" style="font-size:5.2px">OD600</text>
<text class="et2" y="640.5"><tspan x="45.7">0</tspan><tspan x="55.4">2</tspan><tspan x="65.1">4</tspan><tspan x="74.9">6</tspan><tspan x="84.6">8</tspan><tspan x="94.3">10</tspan><tspan x="104">12</tspan><tspan x="113.7">14</tspan><tspan x="123.5">16</tspan><tspan x="133.2">18</tspan><tspan x="142.9">20</tspan><tspan x="152.6">22</tspan><tspan x="162.3">24</tspan></text>
<text class="et2" x="104" y="649.5">Time (h)</text>
<polyline class="lb" marker-start="url(#mb)" marker-mid="url(#mb)" marker-end="url(#mb)" points="45.7,629.6 55.4,629 65.1,614.7 74.9,598.6 84.6,587.9 94.3,579.7 104,575.2 113.7,572.1 123.5,571.8 133.2,571.2 142.9,570.6 152.6,570.3 162.3,569.7"/>
<polyline class="lp" marker-start="url(#mp)" marker-mid="url(#mp)" marker-end="url(#mp)" points="45.7,629.9 55.4,629 65.1,626.5 74.9,615.3 84.6,606.2 94.3,601.6 104,594.9 113.7,590 123.5,586.4 133.2,584 142.9,582.4 152.6,581.8 162.3,581.2"/>
<polyline class="lr" marker-start="url(#mr)" marker-mid="url(#mr)" marker-end="url(#mr)" points="45.7,629.9 55.4,629 65.1,625.3 74.9,613.8 84.6,604 94.3,595.5 104,589.4 113.7,585.2 123.5,582.8 133.2,580.3 142.9,579.1 152.6,578.5 162.3,577.9"/>
<text class="an"><tspan x="55.4" y="625.5">***</tspan><tspan x="65.1" y="621.8">****</tspan><tspan x="74.9" y="610.3">****</tspan><tspan x="84.6" y="600.5">****</tspan><tspan x="94.3" y="592">****</tspan><tspan x="104" y="585.9">****</tspan><tspan x="113.7" y="581.7">****</tspan><tspan x="123.5" y="579.3">****</tspan><tspan x="133.2" y="576.8">****</tspan><tspan x="142.9" y="575.6">****</tspan><tspan x="152.6" y="575">****</tspan><tspan x="162.3" y="574.4">****</tspan></text>
<text class="an2"><tspan x="65.1" y="631">####</tspan><tspan x="74.9" y="620.3">####</tspan><tspan x="84.6" y="611.2">####</tspan><tspan x="94.3" y="606.6">####</tspan><tspan x="104" y="599.9">####</tspan><tspan x="113.7" y="595">####</tspan><tspan x="123.5" y="591.4">####</tspan><tspan x="133.2" y="589">####</tspan><tspan x="142.9" y="587.4">####</tspan><tspan x="152.6" y="586.8">####</tspan><tspan x="162.3" y="586.2">####</tspan></text>
<path class="lb" d="M43 665h9"/><circle cx="47.5" cy="665" r="1.3" fill="#5aa5ec"/>
<path class="lr" d="M43 676h9"/><rect x="46" y="674.5" width="3" height="3" fill="#8c1414"/>
<path class="lp" d="M43 687h9"/><path d="M47.5 685.5L49.1 688.4H45.9z" fill="#e38ce6"/>
<text class="lg" x="55" y="667.3"><tspan font-style="italic">E. coli</tspan>ΔcpxA</text>
<text class="lg" x="55" y="678.3"><tspan font-style="italic">E. coli</tspan>ΔcpxA - Butyrate1</text>
<text class="lg" x="55" y="689.3"><tspan font-style="italic">E. coli</tspan>ΔcpxA - Butyrate4</text>

<!-- chart 2 -->
<text class="et" x="240" y="549"><tspan font-style="italic">E. coli</tspan>ΔcpxR</text>
<path class="ax" d="M196.7 556V632H315M193.7 556h3M193.7 571.2h3M193.7 586.4h3M193.7 601.6h3M193.7 616.8h3M193.7 632h3M201.7 632v2M211 632v2M220.3 632v2M229.6 632v2M238.9 632v2M248.2 632v2M257.5 632v2M266.8 632v2M276.1 632v2M285.4 632v2M294.7 632v2M304 632v2M313.3 632v2"/>
<text class="tk" x="192.7" y="557.7">2.5</text><text class="tk" x="192.7" y="572.9">2.0</text><text class="tk" x="192.7" y="588.1">1.5</text>
<text class="tk" x="192.7" y="603.3">1.0</text><text class="tk" x="192.7" y="618.5">0.5</text><text class="tk" x="192.7" y="633.7">0.0</text>
<text class="yl" transform="translate(178 594)rotate(-90)" style="font-size:5.2px">OD600</text>
<text class="et2" y="640.5"><tspan x="201.7">0</tspan><tspan x="211">2</tspan><tspan x="220.3">4</tspan><tspan x="229.6">6</tspan><tspan x="238.9">8</tspan><tspan x="248.2">10</tspan><tspan x="257.5">12</tspan><tspan x="266.8">14</tspan><tspan x="276.1">16</tspan><tspan x="285.4">18</tspan><tspan x="294.7">20</tspan><tspan x="304">22</tspan><tspan x="313.3">24</tspan></text>
<text class="et2" x="257.5" y="649.5">Time (h)</text>
<polyline class="lb" marker-start="url(#mb)" marker-mid="url(#mb)" marker-end="url(#mb)" points="201.7,629 211,628.4 220.3,615.3 229.6,601.6 238.9,587.9 248.2,579.7 257.5,575.2 266.8,571.8 276.1,570.6 285.4,569.7 294.7,569.7 304,569.7 313.3,569.7"/>
<polyline class="lp" marker-start="url(#mp)" marker-mid="url(#mp)" marker-end="url(#mp)" points="201.7,629.6 211,629 220.3,628.4 229.6,616.8 238.9,607.7 248.2,602.2 257.5,596.1 266.8,591 276.1,587.9 285.4,585.8 294.7,584.6 304,583.4 313.3,582.8"/>
<polyline class="lr" marker-start="url(#mr)" marker-mid="url(#mr)" marker-end="url(#mr)" points="201.7,629.6 211,629 220.3,627.4 229.6,621.4 238.9,609.2 248.2,600.1 257.5,592.5 266.8,587 276.1,584 285.4,581.8 294.7,579.7 304,578.8 313.3,577.3"/>
<text class="an"><tspan x="211" y="625.5">***</tspan><tspan x="220.3" y="623.9">****</tspan><tspan x="229.6" y="617.9">****</tspan><tspan x="238.9" y="605.7">****</tspan><tspan x="248.2" y="596.6">****</tspan><tspan x="257.5" y="589">****</tspan><tspan x="266.8" y="583.5">****</tspan><tspan x="276.1" y="580.5">****</tspan><tspan x="285.4" y="578.3">****</tspan><tspan x="294.7" y="576.2">****</tspan><tspan x="304" y="575.3">****</tspan><tspan x="313.3" y="573.8">****</tspan></text>
<text class="an2"><tspan x="220.3" y="633.4">####</tspan><tspan x="229.6" y="621.8">####</tspan><tspan x="238.9" y="612.7">####</tspan><tspan x="248.2" y="607.2">####</tspan><tspan x="257.5" y="601.1">####</tspan><tspan x="266.8" y="596">####</tspan><tspan x="276.1" y="592.9">####</tspan><tspan x="285.4" y="590.8">####</tspan><tspan x="294.7" y="589.6">####</tspan><tspan x="304" y="588.4">####</tspan><tspan x="313.3" y="587.8">####</tspan></text>
<path class="lb" d="M193 665h9"/><circle cx="197.5" cy="665" r="1.3" fill="#5aa5ec"/>
<path class="lr" d="M193 676h9"/><rect x="196" y="674.5" width="3" height="3" fill="#8c1414"/>
<path class="lp" d="M193 687h9"/><path d="M197.5 685.5L199.1 688.4H195.9z" fill="#e38ce6"/>
<text class="lg" x="205" y="667.3"><tspan font-style="italic">E. coli</tspan>ΔcpxA+cpxA</text>
<text class="lg" x="205" y="678.3"><tspan font-style="italic">E. coli</tspan>ΔcpxA+cpxA - Butyrate1</text>
<text class="lg" x="205" y="689.3"><tspan font-style="italic">E. coli</tspan>ΔcpxA+cpxA - Butyrate4</text>

<!-- chart 3 -->
<text class="et" x="408" y="549"><tspan font-style="italic">E. coli</tspan>ΔcpxA+cpxA</text>
<path class="ax" d="M345 556V632H469M342 556h3M342 571.2h3M342 586.4h3M342 601.6h3M342 616.8h3M342 632h3M350.7 632v2M360.4 632v2M370.1 632v2M379.9 632v2M389.6 632v2M399.3 632v2M409 632v2M418.7 632v2M428.5 632v2M438.2 632v2M447.9 632v2M457.6 632v2M467.3 632v2"/>
<text class="tk" x="341" y="557.7">2.5</text><text class="tk" x="341" y="572.9">2.0</text><text class="tk" x="341" y="588.1">1.5</text>
<text class="tk" x="341" y="603.3">1.0</text><text class="tk" x="341" y="618.5">0.5</text><text class="tk" x="341" y="633.7">0.0</text>
<text class="yl" transform="translate(327 594)rotate(-90)" style="font-size:5.2px">OD600</text>
<text class="et2" y="640.5"><tspan x="350.7">0</tspan><tspan x="360.4">2</tspan><tspan x="370.1">4</tspan><tspan x="379.9">6</tspan><tspan x="389.6">8</tspan><tspan x="399.3">10</tspan><tspan x="409">12</tspan><tspan x="418.7">14</tspan><tspan x="428.5">16</tspan><tspan x="438.2">18</tspan><tspan x="447.9">20</tspan><tspan x="457.6">22</tspan><tspan x="467.3">24</tspan></text>
<text class="et2" x="409" y="649.5">Time (h)</text>
<polyline class="lb" marker-start="url(#mb)" marker-mid="url(#mb)" marker-end="url(#mb)" points="350.7,629 360.4,627.4 370.1,610.7 379.9,599.2 389.6,591 399.3,583.4 409,577.9 418.7,574.2 428.5,573.6 438.2,572.1 447.9,571.2 457.6,570.6 467.3,571.2"/>
<polyline class="lp" marker-start="url(#mp)" marker-mid="url(#mp)" marker-end="url(#mp)" points="350.7,629.6 360.4,629 370.1,625.9 379.9,616.8 389.6,608.3 399.3,603.1 409,597.6 418.7,593.1 428.5,588.8 438.2,585.8 447.9,584 457.6,583.4 467.3,582.8"/>
<polyline class="lr" marker-start="url(#mr)" marker-mid="url(#mr)" marker-end="url(#mr)" points="350.7,629.6 360.4,629 370.1,623.8 379.9,614.7 389.6,606.2 399.3,601 409,595.5 418.7,591 428.5,587.3 438.2,583.4 447.9,581.8 457.6,580.3 467.3,579.7"/>
<text class="an"><tspan x="360.4" y="625.5">***</tspan><tspan x="370.1" y="620.3">****</tspan><tspan x="379.9" y="611.2">****</tspan><tspan x="389.6" y="602.7">****</tspan><tspan x="399.3" y="597.5">****</tspan><tspan x="409" y="592">****</tspan><tspan x="418.7" y="587.5">****</tspan><tspan x="428.5" y="583.8">****</tspan><tspan x="438.2" y="579.9">****</tspan><tspan x="447.9" y="578.3">****</tspan><tspan x="457.6" y="576.8">****</tspan><tspan x="467.3" y="576.2">****</tspan></text>
<text class="an2"><tspan x="370.1" y="630.9">####</tspan><tspan x="379.9" y="621.8">####</tspan><tspan x="389.6" y="613.3">####</tspan><tspan x="399.3" y="608.1">####</tspan><tspan x="409" y="602.6">####</tspan><tspan x="418.7" y="598.1">####</tspan><tspan x="428.5" y="593.8">####</tspan><tspan x="438.2" y="590.8">####</tspan><tspan x="447.9" y="589">####</tspan><tspan x="457.6" y="588.4">####</tspan><tspan x="467.3" y="587.8">####</tspan></text>
<path class="lb" d="M348 665h9"/><circle cx="352.5" cy="665" r="1.3" fill="#5aa5ec"/>
<path class="lr" d="M348 676h9"/><rect x="351" y="674.5" width="3" height="3" fill="#8c1414"/>
<path class="lp" d="M348 687h9"/><path d="M352.5 685.5L354.1 688.4H350.9z" fill="#e38ce6"/>
<text class="lg" x="362" y="667.3"><tspan font-style="italic">E. coli</tspan>ΔcpxR</text>
<text class="lg" x="362" y="678.3"><tspan font-style="italic">E. coli</tspan>ΔcpxR - Butyrate1</text>
<text class="lg" x="362" y="689.3"><tspan font-style="italic">E. coli</tspan>ΔcpxR - Butyrate4</text>

<!-- chart 4 -->
<text class="et" x="565" y="549"><tspan font-style="italic">E. coli</tspan>ΔcpxR+cpxR</text>
<path class="ax" d="M501 556V632H625M498 556h3M498 571.2h3M498 586.4h3M498 601.6h3M498 616.8h3M498 632h3M506.7 632v2M516.4 632v2M526.1 632v2M535.9 632v2M545.6 632v2M555.3 632v2M565 632v2M574.7 632v2M584.5 632v2M594.2 632v2M603.9 632v2M613.6 632v2M623.3 632v2"/>
<text class="tk" x="497" y="557.7">2.5</text><text class="tk" x="497" y="572.9">2.0</text><text class="tk" x="497" y="588.1">1.5</text>
<text class="tk" x="497" y="603.3">1.0</text><text class="tk" x="497" y="618.5">0.5</text><text class="tk" x="497" y="633.7">0.0</text>
<text class="yl" transform="translate(484 594)rotate(-90)" style="font-size:5.2px">OD600</text>
<text class="et2" y="640.5"><tspan x="506.7">0</tspan><tspan x="516.4">2</tspan><tspan x="526.1">4</tspan><tspan x="535.9">6</tspan><tspan x="545.6">8</tspan><tspan x="555.3">10</tspan><tspan x="565">12</tspan><tspan x="574.7">14</tspan><tspan x="584.5">16</tspan><tspan x="594.2">18</tspan><tspan x="603.9">20</tspan><tspan x="613.6">22</tspan><tspan x="623.3">24</tspan></text>
<text class="et2" x="565" y="649.5">Time (h)</text>
<polyline class="lb" marker-start="url(#mb)" marker-mid="url(#mb)" marker-end="url(#mb)" points="506.7,629 516.4,628.4 526.1,613.8 535.9,601.6 545.6,591 555.3,581.8 565,577.3 574.7,574.8 584.5,572.7 594.2,571.2 603.9,571.2 613.6,570.6 623.3,570.6"/>
<polyline class="lp" marker-start="url(#mp)" marker-mid="url(#mp)" marker-end="url(#mp)" points="506.7,628.4 516.4,629 526.1,625.9 535.9,615.3 545.6,608.3 555.3,601.6 565,597 574.7,592.5 584.5,587.9 594.2,584 603.9,581.8 613.6,580.9 623.3,580.3"/>
<polyline class="lr" marker-start="url(#mr)" marker-mid="url(#mr)" marker-end="url(#mr)" points="506.7,627.4 516.4,629 526.1,625.3 535.9,613.8 545.6,606.2 555.3,600.1 565,595.5 574.7,590 584.5,586.4 594.2,582.8 603.9,580.9 613.6,580.3 623.3,579.7"/>
<text class="an"><tspan x="516.4" y="625.5">*</tspan><tspan x="526.1" y="621.8">****</tspan><tspan x="535.9" y="610.3">****</tspan><tspan x="545.6" y="602.7">****</tspan><tspan x="555.3" y="596.6">****</tspan><tspan x="565" y="592">****</tspan><tspan x="574.7" y="586.5">****</tspan><tspan x="584.5" y="582.9">****</tspan><tspan x="594.2" y="579.3">****</tspan><tspan x="603.9" y="577.4">****</tspan><tspan x="613.6" y="576.8">****</tspan><tspan x="623.3" y="576.2">****</tspan></text>
<text class="an2"><tspan x="526.1" y="630.9">####</tspan><tspan x="535.9" y="620.3">####</tspan><tspan x="545.6" y="613.3">####</tspan><tspan x="555.3" y="606.6">####</tspan><tspan x="565" y="602">####</tspan><tspan x="574.7" y="597.5">####</tspan><tspan x="584.5" y="592.9">####</tspan><tspan x="594.2" y="589">####</tspan><tspan x="603.9" y="586.8">####</tspan><tspan x="613.6" y="585.9">####</tspan><tspan x="623.3" y="585.3">####</tspan></text>
<path class="lb" d="M505 665h9"/><circle cx="509.5" cy="665" r="1.3" fill="#5aa5ec"/>
<path class="lr" d="M505 676h9"/><rect x="508" y="674.5" width="3" height="3" fill="#8c1414"/>
<path class="lp" d="M505 687h9"/><path d="M509.5 685.5L511.1 688.4H507.9z" fill="#e38ce6"/>
<text class="lg" x="518" y="667.3"><tspan font-style="italic">E. coli</tspan>ΔcpxR+cpxR</text>
<text class="lg" x="518" y="678.3"><tspan font-style="italic">E. coli</tspan>ΔcpxR+cpxR - Butyrate1</text>
<text class="lg" x="518" y="689.3"><tspan font-style="italic">E. coli</tspan>ΔcpxR+cpxR - Butyrate4</text>
</svg>
</body></html>
